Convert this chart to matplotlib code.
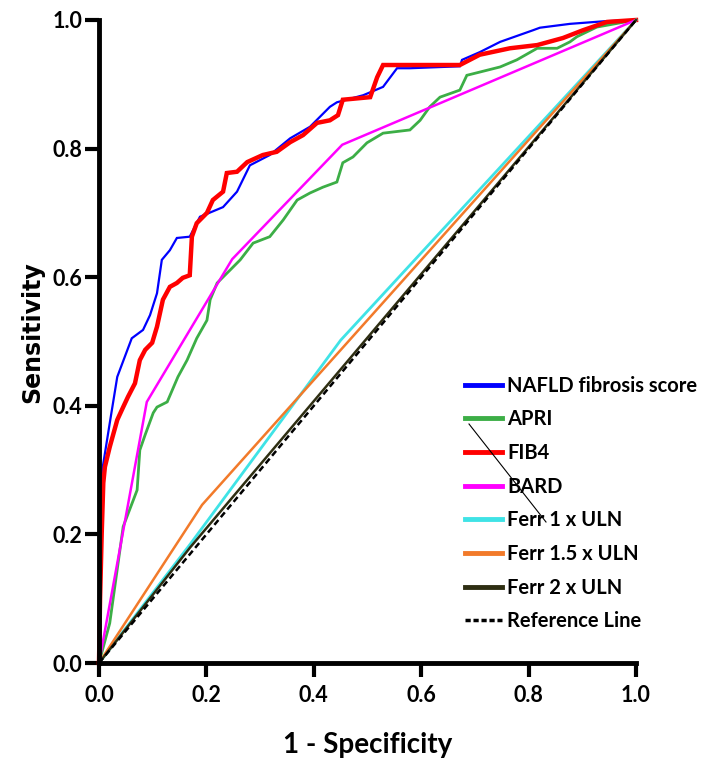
import numpy as np
import matplotlib
matplotlib.use("Agg")
import matplotlib.pyplot as plt
from matplotlib.lines import Line2D
from matplotlib.ticker import FormatStrFormatter
from matplotlib import font_manager

# --- ROC curves (x = 1 - specificity, y = sensitivity)
nafld_x = [0, 0.002, 0.004, 0.007, 0.020, 0.034, 0.061, 0.082, 0.095, 0.108, 0.117, 0.132, 0.145,
           0.169, 0.188, 0.231, 0.257, 0.281, 0.318, 0.356, 0.393, 0.430, 0.443, 0.492, 0.529,
           0.555, 0.579, 0.672, 0.676, 0.709, 0.747, 0.808, 0.821, 0.877, 0.94, 1.0]
nafld_y = [0, 0.15, 0.28, 0.305, 0.373, 0.445, 0.505, 0.518, 0.541, 0.575, 0.627, 0.642, 0.661,
           0.663, 0.694, 0.709, 0.733, 0.774, 0.790, 0.816, 0.834, 0.865, 0.872, 0.883, 0.896,
           0.925, 0.925, 0.928, 0.938, 0.950, 0.966, 0.984, 0.988, 0.994, 0.998, 1.0]

apri_x = [0, 0.020, 0.045, 0.071, 0.076, 0.086, 0.101, 0.108, 0.127, 0.147, 0.164, 0.182, 0.201,
          0.207, 0.220, 0.244, 0.263, 0.287, 0.318, 0.343, 0.369, 0.393, 0.417, 0.443, 0.454,
          0.473, 0.499, 0.529, 0.579, 0.598, 0.616, 0.635, 0.672, 0.685, 0.709, 0.747, 0.778,
          0.816, 0.853, 0.877, 0.890, 0.927, 1.0]
apri_y = [0, 0.062, 0.212, 0.269, 0.331, 0.355, 0.389, 0.398, 0.406, 0.445, 0.471, 0.505, 0.533,
          0.565, 0.591, 0.611, 0.627, 0.653, 0.663, 0.689, 0.720, 0.731, 0.740, 0.748, 0.778,
          0.787, 0.809, 0.824, 0.829, 0.844, 0.865, 0.880, 0.891, 0.914, 0.919, 0.927, 0.938,
          0.956, 0.956, 0.966, 0.974, 0.989, 1.0]

fib4_x = [0, 0.002, 0.005, 0.008, 0.011, 0.020, 0.034, 0.045, 0.054, 0.067, 0.076, 0.086, 0.099,
          0.108, 0.119, 0.132, 0.145, 0.156, 0.169, 0.173, 0.182, 0.201, 0.212, 0.231, 0.238,
          0.257, 0.276, 0.305, 0.331, 0.356, 0.380, 0.406, 0.430, 0.445, 0.454, 0.505, 0.518,
          0.529, 0.672, 0.709, 0.765, 0.816, 0.864, 0.901, 0.946, 1.0]
fib4_y = [0, 0.10, 0.20, 0.28, 0.305, 0.336, 0.378, 0.398, 0.414, 0.435, 0.471, 0.487, 0.498,
          0.523, 0.565, 0.585, 0.591, 0.599, 0.603, 0.663, 0.684, 0.700, 0.720, 0.733, 0.762,
          0.764, 0.779, 0.790, 0.795, 0.810, 0.821, 0.840, 0.844, 0.852, 0.876, 0.880, 0.911,
          0.930, 0.930, 0.946, 0.956, 0.961, 0.972, 0.984, 0.997, 1.0]

bard_x = [0, 0.089, 0.248, 0.453, 1.0]
bard_y = [0, 0.406, 0.628, 0.806, 1.0]

ferr1_x = [0, 0.17, 0.45, 1.0]
ferr1_y = [0, 0.185, 0.502, 1.0]

ferr15_x = [0, 0.192, 1.0]
ferr15_y = [0, 0.246, 1.0]

ferr2_x = [0, 0.17, 1.0]
ferr2_y = [0, 0.180, 1.0]

ref_x = [0, 1]
ref_y = [0, 1]

labels = ["NAFLD fibrosis score", "APRI", "FIB4", "BARD",
          "Ferr 1 x ULN", "Ferr 1.5 x ULN", "Ferr 2 x ULN", "Reference Line"]
colors = ["#0000ff", "#3cae46", "#ff0000", "#ff00ff",
          "#3fe3e6", "#f27a2a", "#2e2e12", "black"]


def pick_font(names):
    for n in names:
        try:
            font_manager.findfont(font_manager.FontProperties(family=n), fallback_to_default=False)
            return n
        except ValueError:
            pass
    return "DejaVu Sans"


narrow = pick_font(["Liberation Sans Narrow", "Lato"])

fig = plt.figure(figsize=(7.11, 7.63), dpi=100)
ax = fig.add_axes([99 / 711, 100 / 763, 537 / 711, 643 / 763])

series = [(nafld_x, nafld_y, 1.6), (apri_x, apri_y, 2.0), (fib4_x, fib4_y, 3.2),
          (bard_x, bard_y, 1.8), (ferr1_x, ferr1_y, 2.0), (ferr15_x, ferr15_y, 1.8),
          (ferr2_x, ferr2_y, 1.8)]
for (xs, ys, lw), c in zip(series, colors):
    ax.plot(xs, ys, color=c, lw=lw, clip_on=False, solid_joinstyle="miter")
ax.plot(ref_x, ref_y, color="black", lw=1.8, ls=(0, (2.5, 1.5)), clip_on=False)

ax.set_xlim(0, 1)
ax.set_ylim(0, 1)
ax.set_xticks(np.arange(0, 1.01, 0.2))
ax.set_yticks(np.arange(0, 1.01, 0.2))
ax.xaxis.set_major_formatter(FormatStrFormatter("%.1f"))
ax.yaxis.set_major_formatter(FormatStrFormatter("%.1f"))

for s in ["top", "right"]:
    ax.spines[s].set_visible(False)
for s in ["left", "bottom"]:
    ax.spines[s].set_linewidth(3.5)

ax.tick_params(direction="out", length=10, width=3, colors="black")
ax.tick_params(axis="x", pad=6)
ax.tick_params(axis="y", pad=2)
for lbl in ax.get_xticklabels() + ax.get_yticklabels():
    lbl.set_family(narrow)
    lbl.set_fontweight("bold")
    lbl.set_fontsize(15.5)

ax.set_xlabel("1 - Specificity", family=narrow, fontweight="bold", fontsize=20, va="center")
ax.xaxis.set_label_coords(0.5, -0.128)
ax.set_ylabel("Sensitivity", family="DejaVu Sans", fontweight="bold", fontsize=17, va="center")
ax.yaxis.set_label_coords(-0.125, 0.515)

handles = [Line2D([], [], color=c, lw=3.5) for c in colors[:-1]]
handles.append(Line2D([], [], color="black", lw=2.5, ls=(0, (1.5, 0.8))))
leg = ax.legend(handles, labels, loc="upper left", bbox_to_anchor=(0.682, 0.447),
                frameon=False, borderpad=0, borderaxespad=0, handlelength=1.84,
                handletextpad=0.25, labelspacing=0.68,
                prop=dict(family=narrow, weight="bold", size=14.5))

# stray pen stroke across the legend in the original image
fig.add_artist(Line2D([469 / 711, 546 / 711], [1 - 424 / 763, 1 - 522 / 763],
                      color="black", lw=0.8, transform=fig.transFigure))

fig.savefig("out.png", dpi=100)
